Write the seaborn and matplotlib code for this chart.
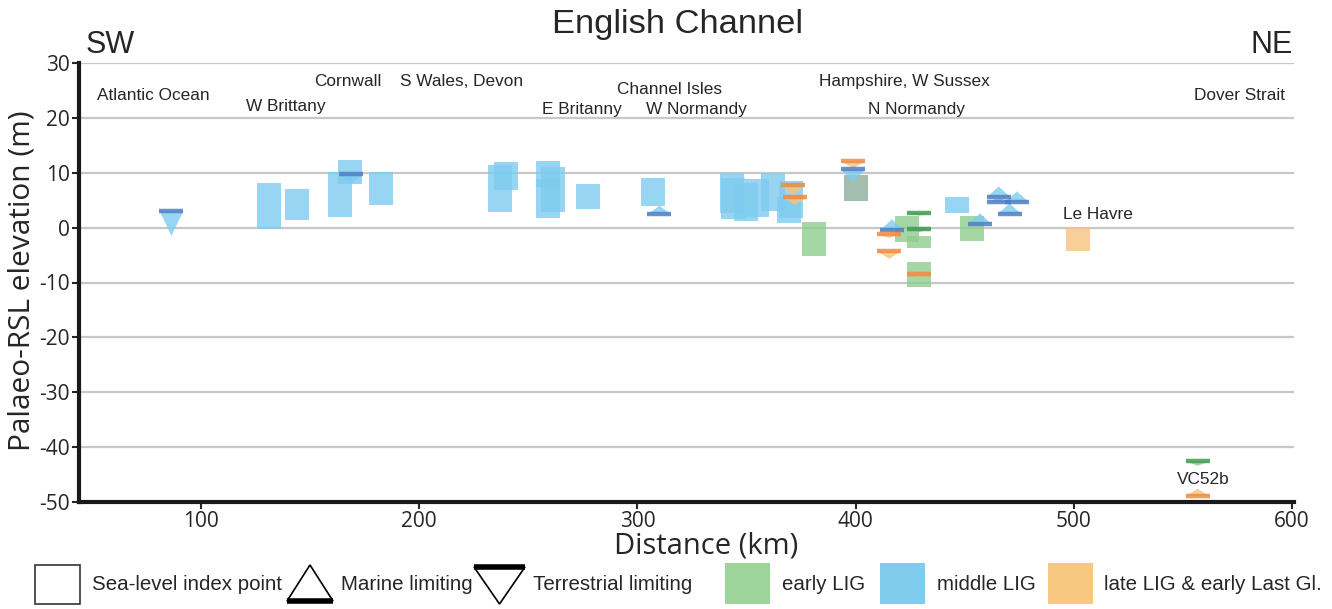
import matplotlib
matplotlib.use("Agg")
import matplotlib.pyplot as plt
import seaborn as sns
from matplotlib.patches import Polygon, Rectangle

sns.set_style("white")
plt.rcParams['font.family'] = ['Open Sans', 'DejaVu Sans']
plt.rcParams['axes.unicode_minus'] = False

# sea-level index points (boxes): distance (km), top and bottom of elevation range (m)
early_km = [381.1, 423.6, 429.1, 429.1, 453.4]
early_top = [1.0, 2.1, -1.5, -6.3, 2.1]
early_bot = [-5.2, -2.7, -3.7, -10.8, -2.4]

middle_km = [131.0, 144.1, 163.7, 168.1, 182.4, 236.9, 239.7, 258.9, 261.2, 258.9,
             277.5, 307.2, 343.4, 344.0, 349.9, 354.8, 362.0, 369.3, 370.5, 446.6]
middle_top = [8.2, 7.0, 10.1, 12.3, 10.2, 11.5, 12.0, 12.1, 11.1, 8.8,
              8.0, 9.1, 9.9, 9.0, 8.2, 8.8, 10.0, 5.6, 8.5, 5.5]
middle_bot = [-0.2, 1.3, 2.0, 8.0, 4.2, 2.8, 6.8, 1.8, 2.9, 7.4,
              3.4, 3.9, 2.6, 1.5, 1.2, 2.0, 3.0, 0.9, 1.7, 2.6]

late_km = [501.8]
late_top = [0.1]
late_bot = [-4.3]

# overlapping middle + late index point near 400 km
mixed_km = [400.2]
mixed_top = [9.6]
mixed_bot = [4.8]

# marine limiting (triangle up): distance, bar elevation, tip elevation, period
marine_km = [310.1, 416.7, 457.0, 465.6, 465.6, 474.0, 470.6, 556.8]
marine_bar = [2.4, -0.5, 0.6, 4.6, 5.5, 4.6, 2.5, -48.9]
marine_tip = [4.0, 1.5, 2.6, 5.5, 7.5, 6.6, 4.4, -47.6]
marine_per = ["middle", "middle", "middle", "middle", "middle", "middle", "middle", "late"]

# terrestrial limiting (triangle down)
terr_km = [86.4, 168.9, 371.3, 372.2, 398.9, 398.9, 415.4, 415.4, 429.1, 429.1, 429.1, 556.8]
terr_bar = [3.1, 9.7, 7.7, 5.5, 12.1, 10.6, -1.2, -4.3, 2.7, -0.3, -8.5, -42.6]
terr_tip = [-1.5, 8.0, 5.9, 4.1, 10.8, 8.2, -1.9, -5.7, 2.2, -0.8, -9.0, -43.4]
terr_per = ["middle", "middle", "late", "late", "late", "middle", "late", "late",
            "early", "early", "late", "early"]

region_names = ["Atlantic Ocean", "W Brittany", "Cornwall", "S Wales, Devon", "Channel Isles",
                "E Britanny", "W Normandy", "Hampshire, W Sussex", "N Normandy", "Dover Strait",
                "Le Havre", "VC52b"]
region_km = [78.0, 139.0, 167.4, 219.6, 314.9, 274.6, 326.9, 422.6, 427.7, 576.2, 511.1, 559.2]
region_elev = [24.1, 22.0, 26.7, 26.7, 25.2, 21.6, 21.6, 26.7, 21.6, 24.1, 2.4, -45.9]

fill = {"early": "#8fce8f", "middle": "#7ecbef", "late": "#f7c47c", "mixed": "#a3bdae"}
edge = {"early": "#3f9a50", "middle": "#4f7fc4", "late": "#f08a40"}
legend_fill = {"early": "#9dd49a", "middle": "#80ccee", "late": "#f8c880"}
W = 11  # symbol width in km
label_font = ['Liberation Sans', 'DejaVu Sans']

fig = plt.figure(figsize=(13.32, 6.09), dpi=100)
ax = fig.add_axes([79 / 1332, 107 / 609, 1215 / 1332, 439 / 609])

for per, km, top, bot in [("early", early_km, early_top, early_bot),
                          ("middle", middle_km, middle_top, middle_bot),
                          ("late", late_km, late_top, late_bot),
                          ("mixed", mixed_km, mixed_top, mixed_bot)]:
    ax.bar(km, [t - b for t, b in zip(top, bot)], bottom=bot, width=W,
           color=fill[per], alpha=0.8 if per != "mixed" else 1.0, edgecolor="none", zorder=2)

for km, bar, tip, per in zip(marine_km, marine_bar, marine_tip, marine_per):
    ax.add_patch(Polygon([(km - W / 2, bar), (km + W / 2, bar), (km, tip)],
                         closed=True, facecolor=fill[per], alpha=0.8, edgecolor="none", zorder=3))
    ax.hlines(bar, km - W / 2, km + W / 2, color=edge[per], lw=3.2, alpha=0.85, zorder=4)

for km, bar, tip, per in zip(terr_km, terr_bar, terr_tip, terr_per):
    ax.add_patch(Polygon([(km - W / 2, bar), (km + W / 2, bar), (km, tip)],
                         closed=True, facecolor=fill[per], alpha=0.8, edgecolor="none", zorder=3))
    ax.hlines(bar, km - W / 2, km + W / 2, color=edge[per], lw=3.2, alpha=0.85, zorder=4)

for name, km, el in zip(region_names, region_km, region_elev):
    ax.text(km, el, name, ha="center", va="center", fontsize=12.4, family=label_font, zorder=5)

ax.set_xlim(44, 601)
ax.set_ylim(-50, 30)
ax.set_xticks([100, 200, 300, 400, 500, 600])
ax.set_yticks(range(-50, 31, 10))
ax.yaxis.grid(True, color="#c8c8c8", lw=1.6, zorder=0)
ax.set_axisbelow(True)
for s in ["top", "right"]:
    ax.spines[s].set_visible(False)
for s in ["left", "bottom"]:
    ax.spines[s].set_linewidth(3)
    ax.spines[s].set_color("#1a1a1a")
ax.tick_params(direction="out", length=5, width=1.5, labelsize=15, left=True, bottom=True, pad=1.5)
ax.set_xlabel("Distance (km)", fontsize=21, va="center")
ax.xaxis.set_label_coords(0.516, -0.1)
ax.set_ylabel("Palaeo-RSL elevation (m)", fontsize=21.5, va="center")
ax.yaxis.set_label_coords(-0.047, 0.503)

fig.text(678 / 1332, 1 - 25 / 609, "English Channel", ha="center", va="center", fontsize=24.8, family=label_font)
fig.text(110 / 1332, 1 - 45 / 609, "SW", ha="center", va="center", fontsize=22, family=label_font)
fig.text(1272 / 1332, 1 - 45 / 609, "NE", ha="center", va="center", fontsize=22, family=label_font)

# legend drawn in pixel space at the bottom
lax = fig.add_axes([0, 0, 1, 53 / 609])
lax.set_xlim(0, 1332)
lax.set_ylim(609, 556)
lax.axis("off")
lax.add_patch(Rectangle((35, 565), 45, 39, facecolor="none", edgecolor="#333333", lw=1.2))
lax.add_patch(Polygon([(287, 601), (333, 601), (310, 565)], closed=True, facecolor="none", edgecolor="black", lw=1.2))
lax.plot([287, 333], [601, 601], color="black", lw=4, solid_capstyle="butt")
lax.add_patch(Polygon([(474, 567), (525, 567), (499.5, 604)], closed=True, facecolor="none", edgecolor="black", lw=1.2))
lax.plot([474, 525], [567, 567], color="black", lw=4, solid_capstyle="butt")
for x0, per in [(725, "early"), (880, "middle"), (1048, "late")]:
    lax.add_patch(Rectangle((x0, 563), 45, 41, facecolor=legend_fill[per], edgecolor="none"))
for x0, txt in [(92, "Sea-level index point"), (341, "Marine limiting"), (533, "Terrestrial limiting"),
                (782, "early LIG"), (937, "middle LIG"), (1104, "late LIG & early Last Gl.")]:
    lax.text(x0, 584, txt, ha="left", va="center", fontsize=14.8, family=label_font)

fig.savefig("out.png", dpi=100)
